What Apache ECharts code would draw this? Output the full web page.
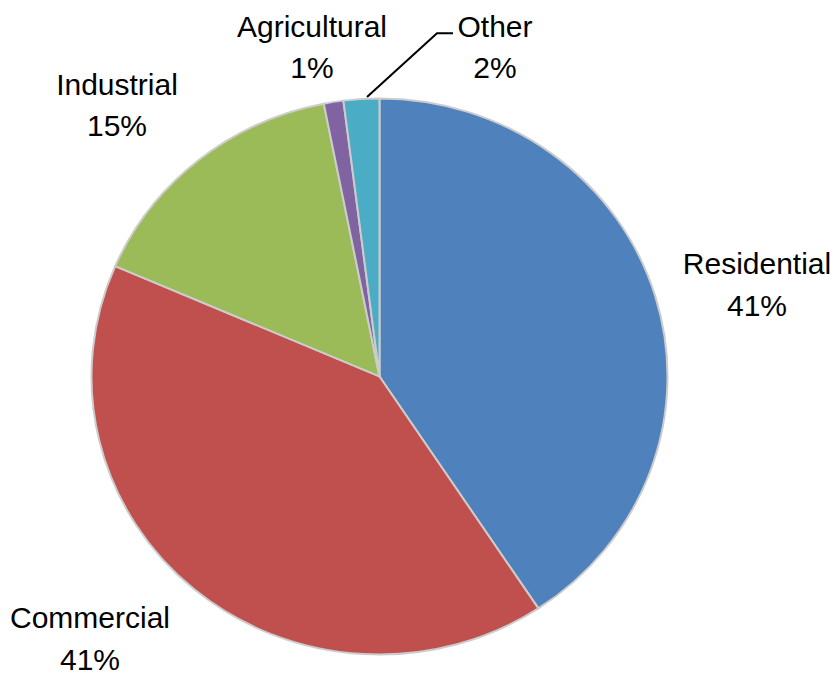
<!DOCTYPE html>
<html>
<head>
<meta charset="utf-8">
<script src="https://cdn.jsdelivr.net/npm/echarts@6/dist/echarts.min.js"></script>
<style>
html,body{margin:0;padding:0;background:#fff;overflow:hidden;width:834px;height:678px;}
#wrap{width:834px;height:678px;overflow:hidden;}
#chart{width:834px;height:702px;transform:scaleY(0.9653);transform-origin:0 0;}
</style>
</head>
<body>
<div id="wrap"><div id="chart"></div></div>
<script>
const categories = ['Residential', 'Commercial', 'Industrial', 'Agricultural', 'Other'];
const values = [40.7, 40.8, 15.4, 1.1, 2.0];
const colors = ['#4F81BD', '#C0504D', '#9BBB59', '#8064A2', '#4BACC6'];

// label placement (center of each two-line label block, chart units)
const labelPos = {
  'Residential': [757, 295],
  'Commercial': [90, 655],
  'Industrial': [117, 109],
  'Agricultural': [312, 49],
  'Other': [495, 49]
};
// leader line for the small "Other" slice
const otherLeader = [[367, 100.5], [437, 34.5], [453, 34.5]];

const chart = echarts.init(document.getElementById('chart'), null, { renderer: 'svg' });
chart.setOption({
  backgroundColor: '#ffffff',
  animation: false,
  series: [{
    type: 'pie',
    center: [379.5, 390],
    radius: 288,
    startAngle: 90,
    clockwise: true,
    percentPrecision: 0,
    color: colors,
    itemStyle: { borderColor: '#cccccc', borderWidth: 2 },
    emphasis: { disabled: true },
    label: {
      show: true,
      position: 'outside',
      formatter: '{b}\n{d}%',
      fontFamily: '"Liberation Sans", Arial, sans-serif',
      fontSize: 30,
      lineHeight: 43,
      color: '#000000',
      align: 'center',
      overflow: 'none',
      rich: {
        n: { fontFamily: '"Liberation Sans", Arial, sans-serif', fontSize: 30, lineHeight: 56, color: '#000000', align: 'center' },
        p: { fontFamily: '"Liberation Sans", Arial, sans-serif', fontSize: 30, lineHeight: 30, color: '#000000', align: 'center' }
      }
    },
    labelLine: { show: false },
    labelLayout: function (p) {
      const name = categories[p.dataIndex];
      const pos = labelPos[name];
      const res = { x: pos[0], y: pos[1], align: 'center', verticalAlign: 'middle', hideOverlap: false, moveOverlap: false };
      if (name === 'Other') res.labelLinePoints = otherLeader;
      return res;
    },
    data: categories.map((c, i) => {
      const item = {
        name: c,
        value: values[i],
        labelLine: c === 'Other'
          ? { show: true, lineStyle: { color: '#000000', width: 2 } }
          : { show: false }
      };
      if (c === 'Commercial') item.label = { formatter: '{n|{b}}\n{p|{d}%}' };
      return item;
    })
  }]
});
</script>
</body>
</html>
